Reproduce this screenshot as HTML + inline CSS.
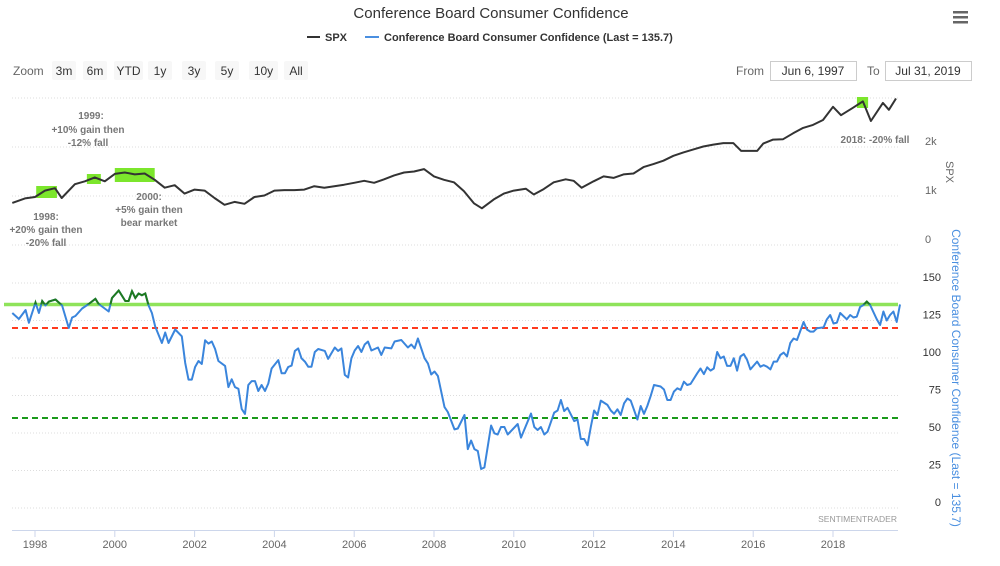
<!DOCTYPE html>
<html><head><meta charset="utf-8"><style>
html,body{margin:0;padding:0;background:#fff;}
body{width:1000px;height:561px;overflow:hidden;font-family:"Liberation Sans",sans-serif;}
</style></head><body>
<svg id="chart" width="1000" height="561" viewBox="0 0 1000 561" xmlns="http://www.w3.org/2000/svg" font-family="Liberation Sans, sans-serif">
<text x="491" y="18" text-anchor="middle" font-size="15" fill="#333">Conference Board Consumer Confidence</text>
<g fill="#666"><rect x="953" y="11" width="15" height="2.5"/><rect x="953" y="16" width="15" height="2.5"/><rect x="953" y="21" width="15" height="2.5"/></g>
<g><line x1="307" y1="37" x2="320" y2="37" stroke="#333" stroke-width="2"/><text x="325" y="41" font-size="11" font-weight="bold" fill="#333">SPX</text></g>
<g><line x1="365" y1="37" x2="379" y2="37" stroke="#4a8fe0" stroke-width="2"/><text x="384" y="41" font-size="11" font-weight="bold" fill="#333">Conference Board Consumer Confidence (Last = 135.7)</text></g>
<text x="13" y="75" font-size="12" fill="#666">Zoom</text>
<g id="zoombtns"></g>
<text x="736" y="75" font-size="12" fill="#666">From</text>
<g><rect x="770.5" y="61.5" width="86" height="19" fill="#fff" stroke="#ccc"/><text x="813" y="75" text-anchor="middle" font-size="12" fill="#333">Jun 6, 1997</text></g>
<text x="867" y="75" font-size="12" fill="#666">To</text>
<g><rect x="885.5" y="61.5" width="86" height="19" fill="#fff" stroke="#ccc"/><text x="928" y="75" text-anchor="middle" font-size="12" fill="#333">Jul 31, 2019</text></g>
<g id="grid"></g>
<g id="boxes"></g>
<g id="series"></g>
<g id="axes"></g>
<g id="notes" font-size="10" font-weight="bold" fill="#777" text-anchor="middle">
<text><tspan x="91" y="119">1999:</tspan><tspan x="88" y="133">+10% gain then</tspan><tspan x="88" y="146">-12% fall</tspan></text>
<text><tspan x="46" y="220">1998:</tspan><tspan x="46" y="233">+20% gain then</tspan><tspan x="46" y="246">-20% fall</tspan></text>
<text><tspan x="149" y="200">2000:</tspan><tspan x="149" y="213">+5% gain then</tspan><tspan x="149" y="226">bear market</tspan></text>
<text x="875" y="143">2018:  -20% fall</text>
</g>
<text x="897" y="522" text-anchor="end" font-size="8.5" fill="#999">SENTIMENTRADER</text>
<text transform="translate(946,172) rotate(90)" text-anchor="middle" font-size="11" fill="#666">SPX</text>
<text transform="translate(952,378) rotate(90)" text-anchor="middle" font-size="12" fill="#4a8fe0">Conference Board Consumer Confidence (Last = 135.7)</text>
</svg>
<script>
const NS='http://www.w3.org/2000/svg';
// ---- data ----
const spxYears=[1997.43,1997.75,1998.0,1998.25,1998.5,1998.67,1999.0,1999.25,1999.5,1999.75,2000.0,2000.25,2000.5,2000.75,2001.0,2001.25,2001.5,2001.75,2002.0,2002.25,2002.5,2002.75,2003.0,2003.25,2003.5,2003.75,2004.0,2004.25,2004.5,2004.75,2005.0,2005.25,2005.5,2005.75,2006.0,2006.25,2006.5,2006.75,2007.0,2007.25,2007.5,2007.75,2008.0,2008.25,2008.5,2008.75,2009.0,2009.2,2009.5,2009.75,2010.0,2010.3,2010.5,2010.75,2011.0,2011.3,2011.5,2011.7,2012.0,2012.25,2012.5,2012.75,2013.0,2013.25,2013.5,2013.75,2014.0,2014.25,2014.5,2014.75,2015.0,2015.25,2015.5,2015.7,2016.1,2016.25,2016.5,2016.75,2017.0,2017.25,2017.5,2017.75,2018.0,2018.2,2018.5,2018.75,2018.95,2019.25,2019.4,2019.58];
const spxValues=[860,950,980,1110,1160,960,1240,1300,1380,1300,1450,1480,1440,1460,1330,1170,1220,1050,1130,1110,960,820,880,840,980,1010,1110,1120,1120,1130,1200,1170,1200,1230,1270,1310,1270,1340,1420,1480,1500,1550,1400,1330,1280,1100,850,750,930,1050,1110,1150,1030,1140,1280,1340,1310,1170,1300,1400,1370,1440,1460,1590,1650,1720,1820,1890,1950,2010,2050,2080,2080,1920,1920,2070,2150,2160,2280,2390,2450,2550,2820,2650,2800,2930,2530,2900,2760,2990];
const cciMonths=[0,2,4,5,7,8,9,10,11,13,15,17,18,19,21,23,25,26,29,30,32,34,35,36,37,38,39,40,41,42,43,45,46,47,49,51,52,53,54,55,56,57,58,59,60,61,62,64,65,66,67,68,69,70,71,72,73,74,75,76,77,78,80,81,82,83,84,85,86,87,88,89,90,91,92,94,95,97,98,99,100,101,102,103,104,105,106,107,108,110,111,112,114,115,117,119,120,121,122,124,125,126,127,128,130,131,133,134,136,137,138,139,140,141,142,144,145,146,147,148,149,152,153,156,157,158,159,160,161,163,164,165,166,167,169,170,171,172,173,174,175,176,177,179,180,181,182,183,184,185,186,188,189,190,191,192,193,195,196,197,198,199,200,201,202,203,204,206,207,208,209,210,211,212,213,214,215,216,217,218,219,220,221,222,224,225,226,227,228,229,230,231,232,233,234,235,236,238,239,240,241,242,244,245,246,247,248,249,251,252,253,254,255,256,257,258,260,261,262,263,264,265,266,267];
const cciValues=[130,126,132,123.5,137,130,138,135,137.6,139,135,120,127,128,133,136,139.5,136,131,140,145,138,138,144.6,140,143,141.8,143,135,130,121,110,117,110,119,114.5,96.7,85.6,85.6,94,98,96,111.8,109.6,111,106,98,94.7,80.6,85.8,80.6,79.5,66,62.7,82,84.6,84.6,78,82,78,83,93,98.6,89.8,89.8,94,94.9,104.7,106.4,99.8,97.6,94.2,94.2,104,106,104.7,99.4,107,104.7,106.4,88.7,87,99.8,105,108,104,109,111,105,107,102,107,106.4,111,112,107,109,106.4,113,99.8,96.4,89,91,88,67.3,64,52.4,53,62,39.3,45,39.3,38,26,27,55,49.8,49,54,54,49,56,46.9,63,54,52,54,49,50.9,63.6,65,72,64.6,66.8,57.9,59,46,46,41.8,54,65,62,71.6,68.7,65,62.8,65.8,62,69.8,73,71.6,59,68,62.8,68,74.7,82,81,79,72,72,77.6,79.8,78.7,84.2,82,82.7,89.8,93,89.3,93.8,91.6,93,104,99.8,101,94.7,94.7,99.8,91.6,101,102.6,98.7,92.4,97.6,94.2,95.3,94.2,92.4,97.6,97.6,102,103.6,101,110,113,112,124,119,117.6,117.6,119.8,120.4,125.8,128.7,123,123.6,130,125.8,128.7,127,127.6,134,135.3,137.6,135.3,125.8,122,131,125,128.7,131,124,135.7];
const cciThresholds=[135.7,120,60];
const xTickYears=[1998,2000,2002,2004,2006,2008,2010,2012,2014,2016,2018];
const spxTicks=[0,1000,2000,3000];
const spxTickLabels=['0','1k','2k',''];
const cciTicks=[0,25,50,75,100,125,150];
const zoomLabels=['3m','6m','YTD','1y','3y','5y','10y','All'];
// ---- scales ----
const xs=y=>35+(y-1998)*39.9;
const ySpx=v=>245-v*0.049;
const yCci=v=>508-v*1.5;
const cciYear=m=>1997.43+m/12;
function el(t,a,p){const e=document.createElementNS(NS,t);for(const k in a)e.setAttribute(k,a[k]);p.appendChild(e);return e;}
// zoom buttons
const zb=document.getElementById('zoombtns');
const zx=[52,83,114,148,182,215,249,284],zw=[24,24,29,24,24,24,29,24];
zoomLabels.forEach((l,i)=>{
 const g=el('g',{},zb);
 
 
 el('rect',{x:zx[i],y:61,width:zw[i],height:19,fill:'#f7f7f7',rx:2},g);
 const t=el('text',{x:zx[i]+zw[i]/2,y:75,'text-anchor':'middle','font-size':12,fill:'#333'},g);t.textContent=l;
});
const grid=document.getElementById('grid'),axes=document.getElementById('axes');
spxTicks.forEach((v,i)=>{
 const ln=el('line',{x1:12,x2:898,y1:ySpx(v),y2:ySpx(v),stroke:'#ddd','stroke-dasharray':'1,2'},grid);
 
 
 if(spxTickLabels[i]){const t=el('text',{x:925,y:ySpx(v)-2,'font-size':11,fill:'#666'},axes);t.textContent=spxTickLabels[i];
 
 }
});
cciTicks.forEach(v=>{
 const ln=el('line',{x1:12,x2:898,y1:yCci(v),y2:yCci(v),stroke:'#ddd','stroke-dasharray':'1,2'},grid);
 
 
 const t=el('text',{x:941,y:yCci(v)-2,'text-anchor':'end','font-size':11,fill:'#333'},axes);t.textContent=v;
 
 
});
const xl=el('line',{x1:12,x2:898,y1:530.5,y2:530.5,stroke:'#ccd6eb'},axes);


xTickYears.forEach(y=>{
 el('line',{x1:xs(y),x2:xs(y),y1:530,y2:537,stroke:'#ccd6eb'},axes);
 const t=el('text',{x:xs(y),y:548,'text-anchor':'middle','font-size':11,fill:'#666'},axes);t.textContent=y;
 
 
});
// highlight boxes
const bx=document.getElementById('boxes');
[[1998.03,1998.55,186,198],[1999.3,1999.65,174,184],[2000.0,2001.0,168,182],[2018.6,2018.88,97,108]].forEach(b=>{
 const r=el('rect',{x:xs(b[0]),y:b[2],width:xs(b[1])-xs(b[0]),height:b[3]-b[2],fill:'#7ce62c'},bx);
 
 
});
const sg=document.getElementById('series');
// threshold lines
const th=[['#8fe35a',3.5,'none'],['#ff3b1f',2,'6,4'],['#1a9a1a',2,'6,4']];
cciThresholds.forEach((v,i)=>{
 const l=el('line',{x1:i==0?4:12,x2:898,y1:yCci(v),y2:yCci(v),stroke:th[i][0],'stroke-width':th[i][1],'stroke-dasharray':th[i][2]},sg);
 
 
});
const spxD=spxYears.map((y,i)=>(i?'L':'M')+xs(y).toFixed(1)+','+ySpx(spxValues[i]).toFixed(1)).join('');
const sp=el('path',{d:spxD,fill:'none',stroke:'#333','stroke-width':2,'stroke-linejoin':'round'},sg);


const cD=cciMonths.map((m,i)=>(i?'L':'M')+xs(cciYear(m)).toFixed(1)+','+yCci(cciValues[i]).toFixed(1)).join('');
const cp=el('path',{d:cD,fill:'none',stroke:'#3a85dc','stroke-width':2,'stroke-linejoin':'round'},sg);


const defs=el('defs',{},sg);
const cl=el('clipPath',{id:'above'},defs);
el('rect',{x:0,y:0,width:1000,height:yCci(cciThresholds[0])},cl);
const cp2=el('path',{d:cD,fill:'none',stroke:'#1f7a1f','stroke-width':2,'clip-path':'url(#above)'},sg);


</script>
</body></html>
